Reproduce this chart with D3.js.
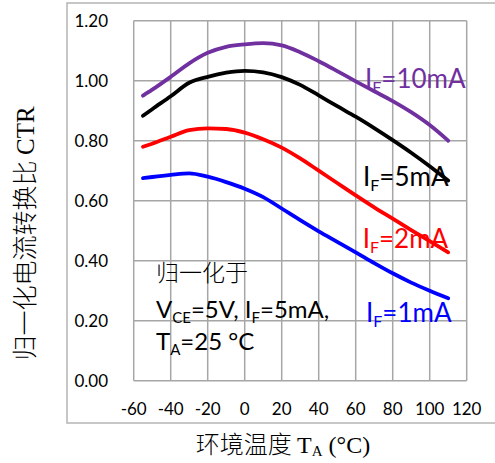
<!DOCTYPE html>
<html><head><meta charset="utf-8">
<script src="https://cdn.jsdelivr.net/npm/d3@7"></script>
<style>html,body{margin:0;padding:0;background:#fff;}svg{display:block;}</style>
</head><body>
<svg id="c" width="495" height="463"></svg>
<script>
const temps = [-55,-50,-40,-30,-20,-10,0,10,20,30,40,50,60,70,80,90,100,110];
const ctr10mA = [0.950,0.970,1.013,1.058,1.093,1.113,1.121,1.125,1.118,1.095,1.065,1.032,0.998,0.965,0.932,0.895,0.852,0.800];
const ctr5mA  = [0.883,0.905,0.948,0.993,1.013,1.027,1.033,1.028,1.012,0.986,0.951,0.915,0.880,0.842,0.802,0.760,0.715,0.667];
const ctr2mA  = [0.780,0.790,0.813,0.835,0.841,0.839,0.827,0.805,0.777,0.741,0.700,0.659,0.618,0.578,0.540,0.502,0.465,0.428];
const ctr1mA  = [0.675,0.679,0.686,0.691,0.680,0.662,0.640,0.612,0.574,0.535,0.498,0.463,0.428,0.392,0.358,0.327,0.300,0.275];
const xTicks = [-60,-40,-20,0,20,40,60,80,100,120];
const yTicks = [0,0.2,0.4,0.6,0.8,1.0,1.2];
const seriesNames = ["10mA","5mA","2mA","1mA"];
const seriesColors = ["#7030A0","#000000","#FF0000","#0000FF"];

const svg = d3.select("#c");
const L=133.7,R=466.7,T=20.7,B=380.7;
const x = d3.scaleLinear().domain([-60,120]).range([L,R]);
const y = d3.scaleLinear().domain([0,1.2]).range([B,T]);
const latin = "Lato, 'Open Sans', sans-serif";
const serif = "'Liberation Serif','Noto Sans CJK SC',serif";

// outer frame
svg.append("rect").attr("x",67).attr("y",3).attr("width",440).attr("height",420)
  .attr("fill","none").attr("stroke","#b4b4b4").attr("stroke-width",1.5);

// grid
const gridColor="#a6a6a6";
svg.append("g").selectAll("line").data(xTicks).join("line")
  .attr("x1",d=>x(d)).attr("x2",d=>x(d)).attr("y1",T).attr("y2",B)
  .attr("stroke",gridColor).attr("stroke-width",1.5);
svg.append("g").selectAll("line").data(yTicks).join("line")
  .attr("x1",L).attr("x2",R).attr("y1",d=>y(d)).attr("y2",d=>y(d))
  .attr("stroke",gridColor).attr("stroke-width",1.5);

// tick labels
svg.append("g").selectAll("text").data(yTicks).join("text")
  .attr("x",108).attr("y",d=>y(d)).attr("dy","0.36em").attr("text-anchor","end")
  .attr("font-family",latin).attr("font-size",17).attr("fill","#000")
  .text(d=>d3.format(".2f")(d));
svg.append("g").selectAll("text").data(xTicks).join("text")
  .attr("x",d=>x(d)).attr("y",415).attr("text-anchor","middle")
  .attr("font-family",latin).attr("font-size",17).attr("fill","#000")
  .text(d=>d);

// lines
const allSeries=[ctr10mA,ctr5mA,ctr2mA,ctr1mA];
const line=d3.line().x((d,i)=>x(temps[i])).y(d=>y(d)).curve(d3.curveMonotoneX);
svg.append("g").selectAll("path").data(allSeries).join("path")
  .attr("d",d=>line(d)).attr("fill","none")
  .attr("stroke",(d,i)=>seriesColors[i]).attr("stroke-width",3.8).attr("stroke-linecap","round");

// series labels
const labelPos=[[365,88],[363,186],[362.7,248],[366,321.5]];
seriesNames.forEach((n,i)=>{
  const t=svg.append("text").attr("x",labelPos[i][0]).attr("y",labelPos[i][1])
    .attr("font-family",latin).attr("font-size",26).attr("fill",seriesColors[i]);
  t.append("tspan").text("I");
  t.append("tspan").attr("font-size",16).attr("dy",5).text("F");
  t.append("tspan").attr("dy",-5).text("="+n);
});

// annotation
svg.append("text").attr("x",156).attr("y",281).attr("font-family","'Noto Sans CJK SC',sans-serif")
  .attr("font-weight",300).attr("font-size",23).attr("fill","#000").text("归一化于");
const a2=svg.append("text").attr("x",156).attr("y",318).attr("font-family",latin).attr("font-size",24).attr("fill","#000");
a2.append("tspan").text("V");
a2.append("tspan").attr("font-size",15).attr("dy",5).text("CE");
a2.append("tspan").attr("dy",-5).text("=5V, I");
a2.append("tspan").attr("font-size",15).attr("dy",5).text("F");
a2.append("tspan").attr("dy",-5).text("=5mA,");
const a3=svg.append("text").attr("x",156).attr("y",350).attr("font-family",latin).attr("font-size",24).attr("fill","#000");
a3.append("tspan").text("T");
a3.append("tspan").attr("font-size",15).attr("dy",5).text("A");
a3.append("tspan").attr("dy",-5).text("=25 °C");

// axis titles
const xt=svg.append("text").attr("x",283).attr("y",453).attr("text-anchor","middle")
  .attr("font-family",serif).attr("font-size",24).attr("fill","#000");
xt.append("tspan").attr("font-family","'Noto Sans CJK SC',sans-serif").attr("font-weight",300).text("环境温度 ");
xt.append("tspan").text("T");
xt.append("tspan").attr("font-size",15).attr("dy",3).text("A");
xt.append("tspan").attr("dy",-3).text(" (°C)");

const yt=svg.append("text").attr("transform","translate(34,233.5) rotate(-90)").attr("text-anchor","middle")
  .attr("font-family",serif).attr("font-size",25).attr("fill","#000");
yt.append("tspan").attr("font-family","'Noto Sans CJK SC',sans-serif").attr("font-weight",300).text("归一化电流转换比 ");
yt.append("tspan").text("CTR");
</script>
</body></html>
